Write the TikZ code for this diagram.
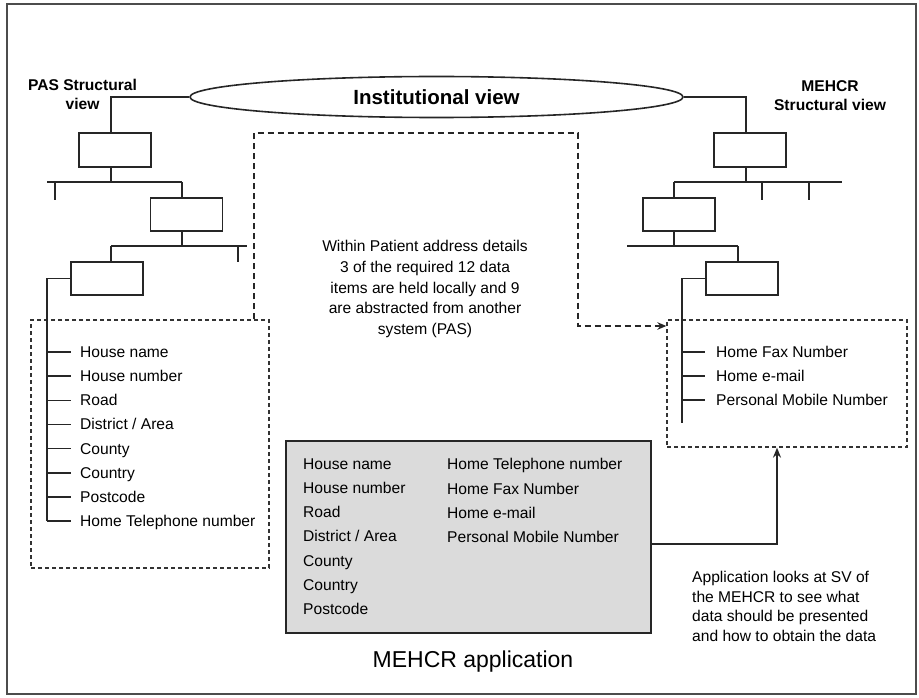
\documentclass[tikz,border=0pt]{standalone}
\usepackage{fontspec}
\setmainfont{Liberation Sans}
\usetikzlibrary{arrows.meta,shapes.geometric}
\begin{document}
\begin{tikzpicture}[x=1pt,y=-1pt,
  ink/.style={draw=black!85, line width=1.5pt},
  levelbox/.style={draw=black!85, line width=1.8pt, minimum width=72pt, minimum height=34pt, inner sep=0pt},
  dbox/.style={draw=black!80, line width=1.3pt, dash pattern=on 4pt off 3pt, inner sep=0pt},
  dlink/.style={draw=black!85, line width=1.6pt, dash pattern=on 6pt off 4pt, -{Stealth[length=9pt,width=7.5pt]}},
  item/.style={inner sep=0pt, anchor=west, text height=12pt, text depth=1pt, font=\fontsize{15.6}{18}\selectfont},
  heading/.style={inner sep=0pt, align=center, font=\fontsize{15.6}{18.5}\selectfont\bfseries},
  note/.style={inner sep=0pt, font=\fontsize{15.6}{20.7}\selectfont},
]
\useasboundingbox (0,0) rectangle (919,698);
% outer frame
\draw[draw=black!70, line width=1.8pt] (7,4) rectangle (916,694);

% institutional view
\node[ellipse, draw=black!85, line width=1.6pt, minimum width=493pt, minimum height=41pt, inner sep=0pt,
      font=\fontsize{20.5}{24}\selectfont\bfseries] (inst) at (436.5,97) {Institutional view};

% structural view headings
\node[heading, anchor=north] (pashead) at (82.5,79) {PAS Structural\\view};
\node[heading, anchor=north] (mehhead) at (830,80.5) {MEHCR\\Structural view};

% PAS structural tree
\node[levelbox] (L1) at (115,150) {};
\node[levelbox, minimum height=33pt] (L2) at (186.5,214.5) {};
\node[levelbox, minimum height=33pt] (L3) at (107,278.5) {};
\draw[ink] (inst.west) -| (111,0 |- L1.north);
\draw[ink] (111,0 |- L1.south) -- (111,182);
\draw[ink] (47,182) -- (182,182);
\draw[ink] (55,182) -- (55,200);
\draw[ink] (182,182) -- (182,0 |- L2.north);
\draw[ink] (182,0 |- L2.south) -- (182,246);
\draw[ink] (111,246) -- (247,246);
\draw[ink] (238,246) -- (238,262);
\draw[ink] (111,246) -- (111,0 |- L3.north);

% MEHCR structural tree
\node[levelbox] (R1) at (750,150) {};
\node[levelbox, minimum height=33pt] (R2) at (679,214.5) {};
\node[levelbox, minimum height=33pt] (R3) at (742,278.5) {};
\draw[ink] (inst.east) -| (746,0 |- R1.north);
\draw[ink] (746,0 |- R1.south) -- (746,182);
\draw[ink] (674,182) -- (842,182);
\draw[ink] (762,182) -- (762,200);
\draw[ink] (809,182) -- (809,200);
\draw[ink] (674,182) -- (674,0 |- R2.north);
\draw[ink] (674,0 |- R2.south) -- (674,246);
\draw[ink] (627,246) -- (738,246);
\draw[ink] (738,246) -- (738,0 |- R3.north);

% PAS address items
\node[dbox, minimum width=238pt, minimum height=248pt] (pasbox) at (150,444) {};
\foreach \t [count=\i from 0] in {House name, House number, Road, District / Area, County, Country, Postcode, Home Telephone number} {
  \node[item] (pas\i) at (80,352+24.15*\i) {\t};
  \draw[ink] (47,0 |- pas\i.west) -- ([xshift=-9pt]pas\i.west);
}
\draw[ink] (L3.west) -| (47,0 |- pas7.west);

% MEHCR address items
\node[dbox, minimum width=240pt, minimum height=127pt] (mehbox) at (787,383.5) {};
\foreach \t [count=\i from 0] in {Home Fax Number, Home e-mail, Personal Mobile Number} {
  \node[item] (meh\i) at (716,352+24*\i) {\t};
  \draw[ink] (682,0 |- meh\i.west) -- ([xshift=-11pt]meh\i.west);
}
\coordinate (mehend) at (682,423);
\draw[ink] (R3.west) -| (mehend);

% abstraction link
\node[note, align=center, anchor=north] (within) at (425,240.3)
  {Within Patient address details\\3 of the required 12 data\\items are held locally and 9\\are abstracted from another\\system (PAS)};
\coordinate (bendA) at (254,133);
\coordinate (bendB) at (578,133);
\draw[dlink] (254,0 |- pasbox.north) -- (bendA) -- (bendB) |- (mehbox.west |- 0,326);

% MEHCR application
\node[draw=black!85, line width=2.5pt, fill=gray!28, minimum width=365pt, minimum height=192pt, inner sep=0pt] (app) at (468.5,537) {};
\node[note, align=left, anchor=north west, font=\fontsize{15.6}{24.2}\selectfont] (appcolA) at (303,458.3)
  {House name\\House number\\Road\\District / Area\\County\\Country\\Postcode};
\node[note, align=left, anchor=north west, font=\fontsize{15.6}{24.2}\selectfont] (appcolB) at (447,458.3)
  {Home Telephone number\\Home Fax Number\\Home e-mail\\Personal Mobile Number};
\node[inner sep=0pt, font=\fontsize{23}{26}\selectfont] (apptitle) at (473,662) {MEHCR application};

\coordinate (appbend) at (777,544);
\draw[ink, -{Stealth[length=10pt,width=8pt]}] (app.east |- appbend) -- (appbend) -- (appbend |- mehbox.south);

\node[note, align=left, anchor=north west, font=\fontsize{15.6}{19.4}\selectfont] (appnote) at (692,571.3)
  {Application looks at SV of\\the MEHCR to see what\\data should be presented\\and how to obtain the data};
\end{tikzpicture}
\end{document}
